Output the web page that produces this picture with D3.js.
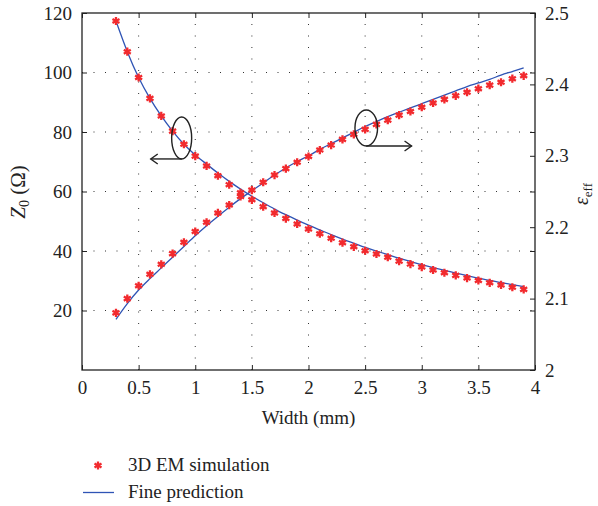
<!DOCTYPE html>
<html>
<head>
<meta charset="utf-8">
<script src="https://cdn.jsdelivr.net/npm/d3@7"></script>
<style>
  body { margin: 0; background: #fff; }
  svg { display: block; }
  svg text { font-family: "Liberation Serif", "Times New Roman", Times, "DejaVu Serif", serif !important; }
</style>
</head>
<body>
<div class="chart"></div>
<script>
// width of the line (mm)
const widths = [0.3, 0.4, 0.5, 0.6, 0.7, 0.8, 0.9, 1.0, 1.1, 1.2, 1.3, 1.4, 1.5, 1.6, 1.7, 1.8, 1.9, 2.0, 2.1, 2.2, 2.3, 2.4, 2.5,
    2.6, 2.7, 2.8, 2.9, 3.0, 3.1, 3.2, 3.3, 3.4, 3.5, 3.6, 3.7, 3.8, 3.9];

// Z0, 3D EM simulation and fine prediction
const z0Sim = [117.3, 107.0, 98.3, 91.3, 85.4, 80.3, 75.9, 71.9, 68.6, 65.3, 62.3, 59.6, 57.2, 54.9, 52.8, 50.9, 49.1, 47.4, 45.8,
    44.3, 42.8, 41.4, 40.1, 39.0, 37.9, 36.6, 35.6, 34.6, 33.6, 32.7, 31.8, 30.9, 30.1, 29.3, 28.6, 27.8, 27.1];
const z0Fine = [117.3, 107.0, 98.3, 91.3, 85.4, 80.3, 75.9, 72.3, 69.2, 66.2, 63.4, 60.8, 58.4, 56.2, 54.1, 52.2, 50.4, 48.7, 47.1,
    45.5, 44.0, 42.6, 41.2, 40.0, 38.8, 37.6, 36.5, 35.4, 34.4, 33.5, 32.6, 31.7, 30.9, 30.1, 29.4, 28.7, 28.0];

// effective permittivity, 3D EM simulation and fine prediction
const epsSim = [2.080, 2.100, 2.118, 2.134, 2.148, 2.163, 2.179, 2.194, 2.207, 2.220, 2.231, 2.243, 2.252, 2.263, 2.273, 2.282,
    2.291, 2.299, 2.308, 2.315, 2.323, 2.330, 2.337, 2.344, 2.350, 2.357, 2.362, 2.368, 2.374, 2.379, 2.384, 2.389, 2.394, 2.399,
    2.403, 2.408, 2.412];
const epsFine = [2.071, 2.093, 2.112, 2.128, 2.143, 2.158, 2.173, 2.188, 2.202, 2.215, 2.228, 2.240, 2.251, 2.262, 2.273, 2.283,
    2.292, 2.300, 2.309, 2.317, 2.325, 2.333, 2.341, 2.348, 2.355, 2.361, 2.367, 2.373, 2.379, 2.385, 2.391, 2.397, 2.402, 2.407,
    2.413, 2.418, 2.423];

const xTicks = [0, 0.5, 1, 1.5, 2, 2.5, 3, 3.5, 4];
const z0Ticks = [20, 40, 60, 80, 100, 120];
const epsTicks = [2, 2.1, 2.2, 2.3, 2.4, 2.5];

// annotation ellipses: centre in data units, arrow end in width units
const notes = [
    { x: 0.88, y: 78.0, axis: "z0", dir: -1, to: 0.607 },
    { x: 2.51, y: 2.339, axis: "eps", dir: 1, to: 2.91 }
];

const W = 598, H = 506;
const mLeft = 82, mRight = 535, mTop = 13, mBottom = 370;
const red = "#f22a2e", blue = "#2f54b5", ink = "#222";
const fontSize = "19px";

const svg = d3.select(".chart").append("svg")
    .attr("width", W)
    .attr("height", H);

const x = d3.scaleLinear().domain([0, 4]).range([mLeft, mRight]);
const yL = d3.scaleLinear().domain([0, 120]).range([mBottom, mTop]);
const yR = d3.scaleLinear().domain([2, 2.5]).range([mBottom, mTop]);

// dotted grid
const grid = svg.append("g")
    .attr("stroke", "#333")
    .attr("stroke-width", 1)
    .attr("stroke-dasharray", "1,10.5");
grid.selectAll(".gx")
    .data(xTicks.filter(d => d > 0 && d < 4))
    .enter().append("line")
    .attr("x1", d => x(d)).attr("x2", d => x(d))
    .attr("y1", mBottom).attr("y2", mTop);
grid.selectAll(".gy")
    .data(z0Ticks.filter(d => d < 120))
    .enter().append("line")
    .attr("x1", mLeft).attr("x2", mRight)
    .attr("y1", d => yL(d)).attr("y2", d => yL(d));

// axes, ticks pointing inwards
const fmt = d => String(d);
const styleAxis = g => {
    g.select(".domain").remove();
    g.attr("font-family", null);
    g.selectAll("line").attr("stroke", ink);
    g.selectAll("text").attr("fill", ink).style("font-size", fontSize);
};

svg.append("g")
    .attr("transform", `translate(0,${mBottom})`)
    .call(d3.axisBottom(x).tickValues(xTicks).tickFormat(fmt).tickSize(-5).tickPadding(11))
    .call(styleAxis);
svg.append("g")
    .attr("transform", `translate(0,${mTop})`)
    .call(d3.axisTop(x).tickValues(xTicks).tickFormat("").tickSize(-5))
    .call(styleAxis);
svg.append("g")
    .attr("transform", `translate(${mLeft},0)`)
    .call(d3.axisLeft(yL).tickValues(z0Ticks).tickFormat(fmt).tickSize(-5).tickPadding(10))
    .call(styleAxis);
svg.append("g")
    .attr("transform", `translate(${mRight},0)`)
    .call(d3.axisRight(yL).tickValues(z0Ticks).tickFormat("").tickSize(-5))
    .call(styleAxis);
svg.append("g")
    .attr("transform", `translate(${mRight},0)`)
    .call(d3.axisRight(yR).tickValues(epsTicks).tickFormat(fmt).tickSize(-5).tickPadding(10))
    .call(styleAxis);

// frame
svg.append("rect")
    .attr("x", mLeft).attr("y", mTop)
    .attr("width", mRight - mLeft).attr("height", mBottom - mTop)
    .attr("fill", "none")
    .attr("stroke", ink)
    .attr("stroke-width", 1.3);

// fine prediction lines
const lineZ = d3.line().x((d, i) => x(widths[i])).y(d => yL(d)).curve(d3.curveMonotoneX);
const lineE = d3.line().x((d, i) => x(widths[i])).y(d => yR(d)).curve(d3.curveMonotoneX);
svg.append("path").attr("d", lineZ(z0Fine))
    .attr("fill", "none").attr("stroke", blue).attr("stroke-width", 1.3);
svg.append("path").attr("d", lineE(epsFine))
    .attr("fill", "none").attr("stroke", blue).attr("stroke-width", 1.3);

// simulation markers
const star = d3.symbol(d3.symbolAsterisk).size(46);
const markers = svg.append("g")
    .attr("fill", "none")
    .attr("stroke", red)
    .attr("stroke-width", 2.3);
markers.selectAll(".mz")
    .data(z0Sim)
    .enter().append("path")
    .attr("d", star)
    .attr("transform", (d, i) => `translate(${x(widths[i])},${yL(d)})`);
markers.selectAll(".me")
    .data(epsSim)
    .enter().append("path")
    .attr("d", star)
    .attr("transform", (d, i) => `translate(${x(widths[i])},${yR(d)})`);

// ellipses with arrows pointing to the axis they belong to
const sizes = [{ rx: 10, ry: 21 }, { rx: 11.3, ry: 18 }];
notes.forEach((n, k) => {
    const scale = n.axis === "z0" ? yL : yR;
    const cx = x(n.x), cy = scale(n.y);
    const { rx, ry } = sizes[k];
    const g = svg.append("g").attr("fill", "none").attr("stroke", ink).attr("stroke-width", 1.4);
    g.append("ellipse").attr("cx", cx).attr("cy", cy).attr("rx", rx).attr("ry", ry);
    const ay = cy + ry, ax = x(n.to);
    g.append("line").attr("x1", cx).attr("y1", ay).attr("x2", ax).attr("y2", ay);
    g.append("path")
        .attr("d", `M${ax - n.dir * 7},${ay - 5}L${ax},${ay}L${ax - n.dir * 7},${ay + 5}`);
});

// axis titles
svg.append("text")
    .attr("x", (mLeft + mRight) / 2).attr("y", 424)
    .attr("text-anchor", "middle")
    .style("font-size", fontSize)
    .attr("fill", ink)
    .text("Width (mm)");

const zLabel = svg.append("text")
    .attr("transform", `translate(25,192) rotate(-90)`)
    .attr("text-anchor", "middle")
    .style("font-size", "21px")
    .attr("fill", ink);
zLabel.append("tspan").style("font-style", "italic").text("Z");
zLabel.append("tspan").attr("dy", 4).style("font-size", "14px").text("0");
zLabel.append("tspan").attr("dy", -4).text(" (Ω)");

const eLabel = svg.append("text")
    .attr("transform", `translate(588,194) rotate(-90)`)
    .attr("text-anchor", "middle")
    .style("font-size", "20px")
    .attr("fill", ink);
eLabel.append("tspan").style("font-style", "italic").text("ε");
eLabel.append("tspan").attr("dy", 4).style("font-size", "13px").text("eff");

// legend
const legend = svg.append("g");
legend.append("path")
    .attr("d", star)
    .attr("transform", "translate(98,465.5)")
    .attr("fill", "none").attr("stroke", red).attr("stroke-width", 2.3);
legend.append("line")
    .attr("x1", 83).attr("x2", 114).attr("y1", 492.5).attr("y2", 492.5)
    .attr("stroke", blue).attr("stroke-width", 1.3);
legend.selectAll("text")
    .data(["3D EM simulation", "Fine prediction"])
    .enter().append("text")
    .attr("x", 128)
    .attr("y", (d, i) => 471 + i * 27)
    .style("font-size", fontSize)
    .attr("fill", ink)
    .text(d => d);
</script>
</body>
</html>
